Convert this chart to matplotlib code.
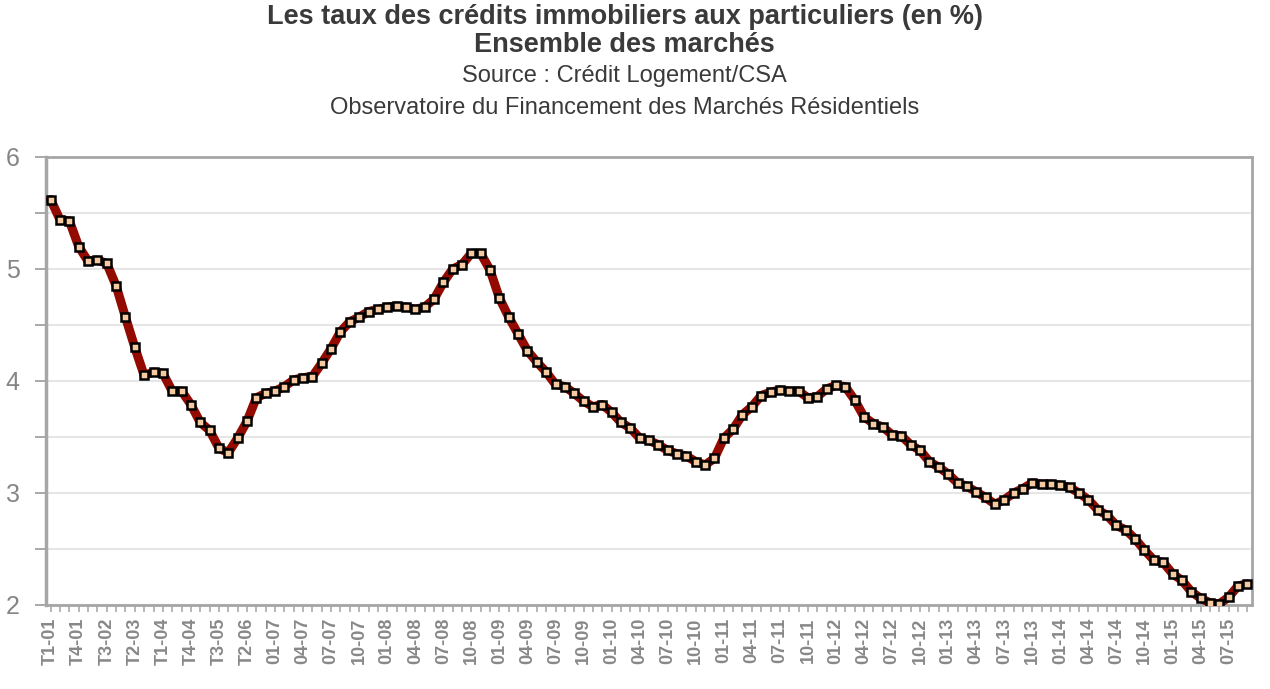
import matplotlib
matplotlib.use('Agg')
import matplotlib.pyplot as plt
import numpy as np

plt.rcParams['font.family'] = ['Liberation Sans', 'DejaVu Sans']

# periods: quarterly 2001-2006, then monthly from 01-07 to 09-15
quarters = [f'T{q}-{y:02d}' for y in range(1, 7) for q in range(1, 5)]
months = [f'{m:02d}-{y:02d}' for y in range(7, 16) for m in range(1, 13)][:105]
periods = quarters + months

# rates (%)
rates_2001_2006 = [5.62, 5.44, 5.43, 5.20, 5.07, 5.08, 5.05, 4.85,
                   4.57, 4.30, 4.05, 4.08, 4.07, 3.91, 3.91, 3.79,
                   3.63, 3.56, 3.40, 3.36, 3.49, 3.64, 3.85, 3.89]
rates_2007_2008 = [3.91, 3.95, 4.01, 4.03, 4.04, 4.16, 4.29, 4.44,
                   4.53, 4.57, 4.62, 4.64, 4.66, 4.67, 4.66, 4.64,
                   4.66, 4.73, 4.88, 5.00, 5.04, 5.14, 5.14, 4.99]
rates_2009_2010 = [4.74, 4.57, 4.42, 4.27, 4.17, 4.08, 3.97, 3.95,
                   3.89, 3.82, 3.77, 3.79, 3.72, 3.63, 3.58, 3.49,
                   3.47, 3.43, 3.38, 3.35, 3.33, 3.28, 3.25, 3.31]
rates_2011_2012 = [3.49, 3.57, 3.70, 3.77, 3.87, 3.90, 3.92, 3.91,
                   3.91, 3.85, 3.86, 3.93, 3.96, 3.95, 3.83, 3.68,
                   3.62, 3.59, 3.52, 3.51, 3.43, 3.38, 3.28, 3.23]
rates_2013_2015 = [3.17, 3.09, 3.06, 3.01, 2.96, 2.90, 2.94, 3.00,
                   3.04, 3.09, 3.08, 3.08, 3.07, 3.05, 3.00, 2.94,
                   2.85, 2.80, 2.71, 2.67, 2.59, 2.49, 2.40, 2.38,
                   2.28, 2.22, 2.12, 2.06, 2.02, 2.01, 2.07, 2.17, 2.19]
rates = rates_2001_2006 + rates_2007_2008 + rates_2009_2010 + rates_2011_2012 + rates_2013_2015

x = np.arange(len(periods))

fig = plt.figure(figsize=(12.7, 6.89), dpi=100)
ax = fig.add_axes([46 / 1270, 1 - 605 / 689, (1252 - 46) / 1270, (605 - 157) / 689])

ax.plot(x, rates, color='#930a00', lw=6.5, solid_joinstyle='round', solid_capstyle='round', zorder=3)
ax.plot(x, rates, ls='none', marker='s', ms=5.8, mfc='#f7c9a0', mec='black', mew=1.8, zorder=4)

ax.set_xlim(-0.5, len(periods) - 0.5)
ax.set_ylim(2, 6)

ax.set_yticks(np.arange(2, 6.01, 0.5))
ax.set_yticklabels(['2', '', '3', '', '4', '', '5', '', '6'])
ax.yaxis.grid(True, color='#e6e6e6', lw=1.5)
ax.set_axisbelow(True)
ax.tick_params(axis='y', colors='#999999', labelcolor='#858585', labelsize=18, length=8, width=1.2, pad=11)

ax.set_xticks(x[::3])
ax.set_xticklabels(periods[::3], rotation=90, fontsize=13, fontweight='bold', color='#888888')
ax.set_xticks(x, minor=True)
ax.tick_params(axis='x', which='both', colors='#aaaaaa', length=5, width=1.2, labelcolor='#888888', pad=4)

for side in ['top', 'right', 'bottom']:
    ax.spines[side].set_color('#a6a6a6')
    ax.spines[side].set_linewidth(2)
ax.spines['left'].set_color('#a6a6a6')
ax.spines['left'].set_linewidth(2.5)

fig.text(0.492, 0.975, 'Les taux des crédits immobiliers aux particuliers (en %)',
         ha='center', va='center', fontsize=19.5, fontweight='bold', color='#3a3a3a')
fig.text(0.492, 0.935, 'Ensemble des marchés',
         ha='center', va='center', fontsize=19.5, fontweight='bold', color='#3a3a3a')
fig.text(0.492, 0.889, 'Source : Crédit Logement/CSA',
         ha='center', va='center', fontsize=17, color='#3a3a3a')
fig.text(0.492, 0.843, 'Observatoire du Financement des Marchés Résidentiels',
         ha='center', va='center', fontsize=17, color='#3a3a3a')

fig.savefig('out.png', dpi=100)
